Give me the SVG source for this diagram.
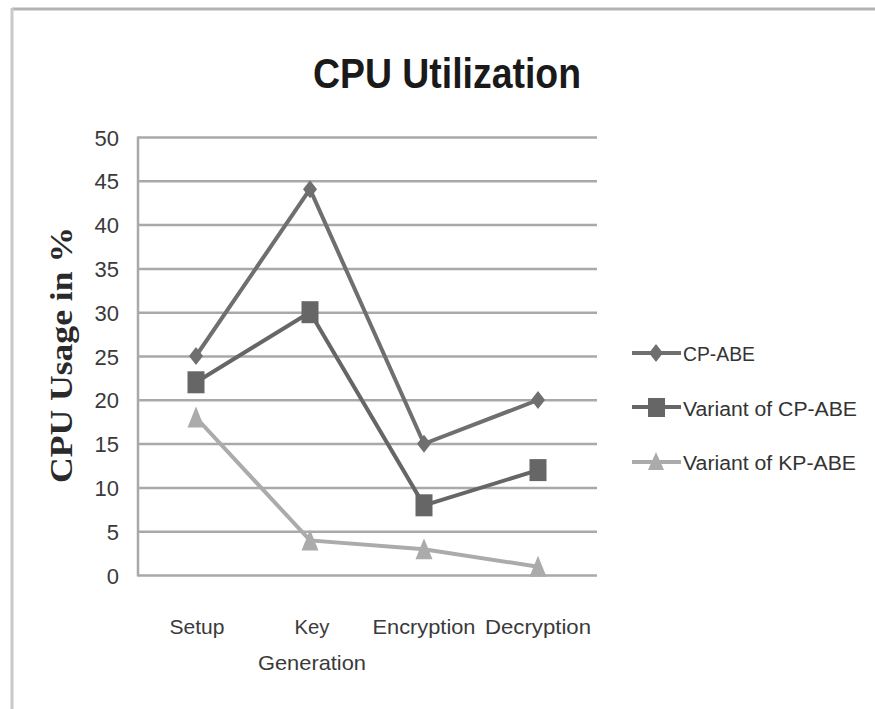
<svg xmlns="http://www.w3.org/2000/svg" width="875" height="709" viewBox="0 0 875 709">
<style>
.grid{stroke:#a9a9a9;stroke-width:2.5;fill:none}
.s1{stroke:#6f6f6f;stroke-width:4;fill:none;stroke-linejoin:miter}
.s2{stroke:#666666;stroke-width:4;fill:none}
.s3{stroke:#ababab;stroke-width:4;fill:none}
.m1{fill:#6f6f6f}
.m2{fill:#666666}
.m3{fill:#ababab}
.tick{font-family:"Liberation Sans",Arial,sans-serif;font-size:22px;fill:#3a3a3a;text-anchor:end}
.cat{font-family:"Liberation Sans",Arial,sans-serif;font-size:21px;fill:#3a3a3a;text-anchor:middle}
.leg{font-family:"Liberation Sans",Arial,sans-serif;font-size:20px;fill:#333333}
</style>
<defs>
<path id="dia" d="M0,-9 L7,0 L0,9 L-7,0 Z"/>
<rect id="sq" x="-8.5" y="-11" width="17" height="22"/>
<path id="tri" d="M0,-11 L8.5,10 L-8.5,10 Z"/>
</defs>
<rect x="0" y="0" width="875" height="709" fill="#ffffff"/>
<g id="frame">
<line x1="12" y1="9" x2="875" y2="9" stroke="#b3b3b3" stroke-width="3"/>
<line x1="12" y1="8" x2="12" y2="709" stroke="#c9c9c9" stroke-width="3"/>
</g>
<g id="title">
<text x="447" y="88" font-family="'Liberation Sans',Arial,sans-serif" font-size="42" font-weight="bold" fill="#1a1a1a" text-anchor="middle" textLength="268" lengthAdjust="spacingAndGlyphs">CPU Utilization</text>
</g>
<g id="y-axis-title">
<text transform="translate(72,355) rotate(-90)" x="0" y="0" font-family="'Liberation Serif','Times New Roman',serif" font-size="32" font-weight="bold" fill="#2a2a2a" text-anchor="middle" textLength="256" lengthAdjust="spacingAndGlyphs">CPU Usage in %</text>
</g>
<g id="gridlines">
<line class="grid" x1="138" y1="137.5" x2="597" y2="137.5"/>
<line class="grid" x1="138" y1="181.3" x2="597" y2="181.3"/>
<line class="grid" x1="138" y1="225.1" x2="597" y2="225.1"/>
<line class="grid" x1="138" y1="268.9" x2="597" y2="268.9"/>
<line class="grid" x1="138" y1="312.7" x2="597" y2="312.7"/>
<line class="grid" x1="138" y1="356.5" x2="597" y2="356.5"/>
<line class="grid" x1="138" y1="400.3" x2="597" y2="400.3"/>
<line class="grid" x1="138" y1="444.1" x2="597" y2="444.1"/>
<line class="grid" x1="138" y1="487.9" x2="597" y2="487.9"/>
<line class="grid" x1="138" y1="531.7" x2="597" y2="531.7"/>
<line class="grid" x1="138" y1="575.5" x2="597" y2="575.5"/>
<line class="grid" x1="138" y1="136.5" x2="138" y2="576.5"/>
</g>
<g id="y-ticks">
<text class="tick" x="119" y="145.5">50</text>
<text class="tick" x="119" y="189.3">45</text>
<text class="tick" x="119" y="233.1">40</text>
<text class="tick" x="119" y="276.9">35</text>
<text class="tick" x="119" y="320.7">30</text>
<text class="tick" x="119" y="364.5">25</text>
<text class="tick" x="119" y="408.3">20</text>
<text class="tick" x="119" y="452.1">15</text>
<text class="tick" x="119" y="495.9">10</text>
<text class="tick" x="119" y="539.7">5</text>
<text class="tick" x="119" y="583.5">0</text>
</g>
<g id="x-categories">
<text class="cat" x="197" y="634" textLength="55" lengthAdjust="spacingAndGlyphs">Setup</text>
<text class="cat" x="312" y="634" textLength="35" lengthAdjust="spacingAndGlyphs">Key</text>
<text class="cat" x="312" y="670" textLength="108" lengthAdjust="spacingAndGlyphs">Generation</text>
<text class="cat" x="424" y="634" textLength="103" lengthAdjust="spacingAndGlyphs">Encryption</text>
<text class="cat" x="538" y="634" textLength="106" lengthAdjust="spacingAndGlyphs">Decryption</text>
</g>
<g id="connectors">
<polyline class="s3" points="196,417.5 310,540.4 424,549.2 538,566.7"/>
<polyline class="s2" points="196,382.3 310,312.2 424,505.3 538,470.1"/>
<polyline class="s1" points="196,356 310,189.2 424,443.8 538,400"/>
</g>
<g id="series-kp-abe-variant">
<use href="#tri" class="m3" x="196" y="417.5"/>
<use href="#tri" class="m3" x="310" y="540.4"/>
<use href="#tri" class="m3" x="424" y="549.2"/>
<use href="#tri" class="m3" x="538" y="566.7"/>
</g>
<g id="series-cp-abe-variant">
<use href="#sq" class="m2" x="196" y="382.3"/>
<use href="#sq" class="m2" x="310" y="312.2"/>
<use href="#sq" class="m2" x="424" y="505.3"/>
<use href="#sq" class="m2" x="538" y="470.1"/>
</g>
<g id="series-cp-abe">
<use href="#dia" class="m1" x="196" y="356"/>
<use href="#dia" class="m1" x="310" y="189.2"/>
<use href="#dia" class="m1" x="424" y="443.8"/>
<use href="#dia" class="m1" x="538" y="400"/>
</g>
<g id="legend-cp-abe">
<line class="s1" x1="632" y1="353" x2="681" y2="353"/>
<use href="#dia" class="m1" x="656" y="353"/>
<text class="leg" x="683" y="361" textLength="72" lengthAdjust="spacingAndGlyphs">CP-ABE</text>
</g>
<g id="legend-cp-abe-variant">
<line class="s2" x1="632" y1="407" x2="681" y2="407"/>
<rect class="m2" x="648" y="398" width="17" height="19"/>
<text class="leg" x="683" y="416" textLength="174" lengthAdjust="spacingAndGlyphs">Variant of CP-ABE</text>
</g>
<g id="legend-kp-abe-variant">
<line class="s3" x1="632" y1="462" x2="681" y2="462"/>
<path class="m3" d="M656,452 L664,470 L648,470 Z"/>
<text class="leg" x="683" y="470" textLength="173" lengthAdjust="spacingAndGlyphs">Variant of KP-ABE</text>
</g>
</svg>
